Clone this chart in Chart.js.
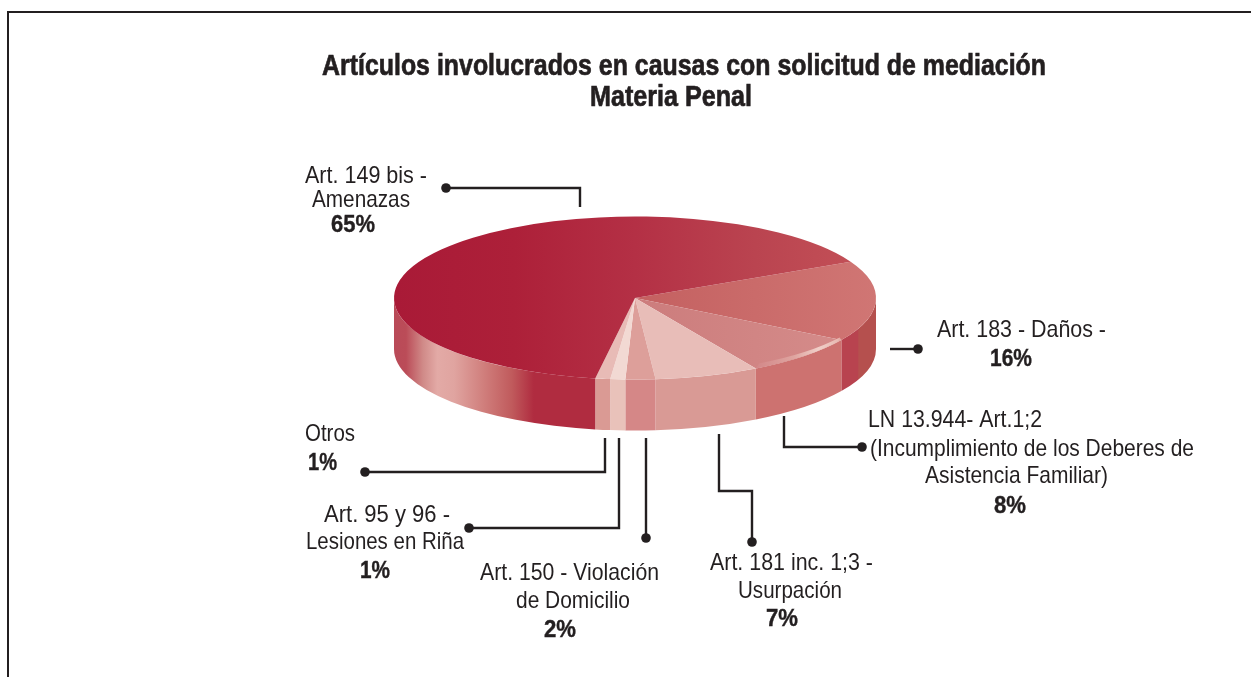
<!DOCTYPE html>
<html lang="es">
<head>
<meta charset="utf-8">
<title>Artículos involucrados en causas con solicitud de mediación</title>
<style>html,body{margin:0;padding:0;background:#fff;overflow:hidden}canvas{display:block}</style>
<script src="https://cdn.jsdelivr.net/npm/chart.js@4/dist/chart.umd.min.js"></script>
</head>
<body>
<canvas id="c" width="1251" height="677"></canvas>
<script>
// ---- data (clockwise from the rim point at upper right) ----
const categories = ["Art. 183 - Daños", "LN 13.944 - Art.1;2", "Art. 181 inc. 1;3 - Usurpación",
  "Art. 150 - Violación de Domicilio", "Art. 95 y 96 - Lesiones en Riña", "Otros", "Art. 149 bis - Amenazas"];
const values = [16, 8, 7, 2, 1, 1, 65];

const titleLines = ["Artículos involucrados en causas con solicitud de mediación", "Materia Penal"];

// ---- style: stops are [fraction across pie width, colour] ----
const topStops = [
  [[0.5, "#c46060"], [1, "#d07674"]],
  [[0.5, "#cc7c7c"], [1, "#d68e8c"]],
  [[0, "#e8bdb8"], [1, "#e8bdb8"]],
  [[0, "#dd9f9a"], [1, "#dd9f9a"]],
  [[0, "#f2d9d3"], [1, "#f2d9d3"]],
  [[0, "#e8bbb6"], [1, "#e8bbb6"]],
  [[0, "#a91a37"], [0.25, "#ad2039"], [0.5, "#b43045"], [0.75, "#ba4450"], [1, "#c45258"]]
];
const sideStops = [
  [[0.934, "#b8434f"], [0.963, "#b8434f"], [0.964, "#b5504e"], [1, "#b5504e"]],
  [[0, "#cd7270"], [1, "#cd7270"]],
  [[0, "#d99a95"], [1, "#d99a95"]],
  [[0, "#d58787"], [1, "#d58787"]],
  [[0, "#e9c2ba"], [1, "#e9c2ba"]],
  [[0, "#da9a94"], [1, "#da9a94"]],
  [[0, "#b94a58"], [0.025, "#bb4c58"], [0.06, "#d08a88"], [0.09, "#e3aaa6"], [0.125, "#e0a4a0"], [0.19, "#cf7c7a"],
   [0.245, "#c05a5c"], [0.29, "#b02c40"], [0.42, "#b02c40"]]
];
const bandStops = [[0.735, "#d08284"], [0.83, "#dfa5a0"], [0.88, "#f0cfc8"], [0.92, "#e8bab3"], [0.935, "#d88f8b"]];

const INK = "#231f20";
const FONT = '"Liberation Sans Narrow", "Liberation Sans", Arial, sans-serif';
const SQUASH = 81.5 / 241;
const DEPTH = 51;

// ---- annotation layout ----
// each text: [text, left, right, baseline, bold]
const texts = [
  ["Art. 149 bis -", 305, 427, 183], ["Amenazas", 312, 410, 207], ["65%", 331, 375, 232, true],
  ["Art. 183 - Daños -", 937, 1106, 337], ["16%", 990, 1032, 366, true],
  ["LN 13.944- Art.1;2", 868, 1042, 427], ["(Incumplimiento de los Deberes de", 870, 1194, 456],
  ["Asistencia Familiar)", 925, 1108, 483], ["8%", 994, 1026, 513, true],
  ["Art. 181 inc. 1;3 -", 710, 873, 570], ["Usurpación", 738, 842, 598], ["7%", 766, 798, 626, true],
  ["Otros", 305, 355, 441], ["1%", 308, 337, 470, true],
  ["Art. 95 y 96 -", 324, 450, 522], ["Lesiones en Riña", 306, 464, 549], ["1%", 360, 390, 578, true],
  ["Art. 150 - Violación", 480, 659, 580], ["de Domicilio", 516, 630, 608], ["2%", 544, 576, 637, true]
];
const leaders = [
  [[446, 188], [580, 188], [580, 207]],
  [[918, 349], [890, 349]],
  [[862, 447], [784, 447], [784, 416]],
  [[752, 542], [752, 491], [719, 491], [719, 434]],
  [[365, 472], [605, 472], [605, 438]],
  [[469, 528], [619, 528], [619, 438]],
  [[646, 538], [646, 438]]
];

function grad(ctx, area, stops) {
  const g = ctx.createLinearGradient(area.left, 0, area.right, 0);
  stops.forEach(s => g.addColorStop(s[0], s[1]));
  return g;
}
function visibleSpan(a0, a1) {
  const T = Math.PI * 2;
  for (let k = -1; k <= 1; k++) {
    const s = Math.max(a0 + k * T, 0), e = Math.min(a1 + k * T, Math.PI);
    if (e > s) return [s, e];
  }
  return null;
}
function fitted(ctx, str, left, right, base, bold, size, heavy) {
  ctx.save();
  ctx.font = (bold ? "bold " : "") + size + "px " + FONT;
  ctx.textAlign = "left";
  ctx.textBaseline = "alphabetic";
  ctx.fillStyle = INK;
  ctx.strokeStyle = INK;
  const w = ctx.measureText(str).width;
  ctx.translate(left, base);
  ctx.scale((right - left) / w, 1);
  ctx.fillText(str, 0, 0);
  if (heavy) { ctx.lineWidth = heavy; ctx.strokeText(str, 0, 0); }
  ctx.restore();
}

const pie3d = {
  id: "pie3d",
  beforeDatasetsDraw(chart) {
    const ctx = chart.ctx, area = chart.chartArea;
    const arcs = chart.getDatasetMeta(0).data;
    const cx = arcs[0].x, cy = arcs[0].y;
    // rim walls under the visible front half of every slice
    arcs.forEach((arc, i) => {
      const span = visibleSpan(arc.startAngle, arc.endAngle);
      if (!span) return;
      const R = arc.outerRadius, r = R * SQUASH;
      ctx.beginPath();
      ctx.ellipse(cx, cy, R, r, 0, span[0], span[1]);
      ctx.ellipse(cx, cy + DEPTH, R, r, 0, span[1], span[0], true);
      ctx.closePath();
      ctx.fillStyle = grad(ctx, area, sideStops[i]);
      ctx.fill();
    });
    // squash the flat library pie into the tilted top face
    ctx.save();
    ctx.translate(cx, cy);
    ctx.scale(1, SQUASH);
    ctx.translate(-cx, -cy);
  },
  afterDatasetsDraw(chart) {
    const ctx = chart.ctx, area = chart.chartArea;
    ctx.restore();
    const arcs = chart.getDatasetMeta(0).data;
    const arc = arcs[1], cx = arc.x, cy = arc.y, R = arc.outerRadius, r = R * SQUASH;
    // bevel highlight along the rim of the LN slice
    ctx.beginPath();
    ctx.ellipse(cx, cy, R, r, 0, arc.startAngle, arc.endAngle);
    ctx.ellipse(cx, cy, R - 2, r - 5, 0, arc.endAngle - 0.02, arc.startAngle, true);
    ctx.closePath();
    ctx.fillStyle = grad(ctx, area, bandStops);
    ctx.fill();
  },
  afterDraw(chart) {
    const ctx = chart.ctx;
    // frame, open at the bottom
    ctx.save();
    ctx.strokeStyle = INK;
    ctx.lineWidth = 2;
    ctx.beginPath();
    ctx.moveTo(8, 677); ctx.lineTo(8, 12); ctx.lineTo(1251, 12);
    ctx.stroke();
    // title
    fitted(ctx, titleLines[0], 322, 1046, 75, true, 30, 0.7);
    fitted(ctx, titleLines[1], 590, 752, 106, true, 30, 0.7);
    // leaders
    ctx.lineWidth = 2.4;
    ctx.lineJoin = "miter";
    leaders.forEach(pts => {
      ctx.beginPath();
      pts.forEach((p, i) => i ? ctx.lineTo(p[0], p[1]) : ctx.moveTo(p[0], p[1]));
      ctx.stroke();
      ctx.beginPath();
      ctx.fillStyle = INK;
      ctx.arc(pts[0][0], pts[0][1], 4.8, 0, Math.PI * 2);
      ctx.fill();
    });
    ctx.restore();
    texts.forEach(t => fitted(ctx, t[0], t[1], t[2], t[3], t[4], 24, t[4] ? 0.4 : 0));
  }
};

new Chart(document.getElementById("c"), {
  type: "pie",
  plugins: [pie3d],
  data: {
    labels: categories,
    datasets: [{
      data: values,
      clip: false,
      borderWidth: 0,
      backgroundColor(c) {
        return c.chart.chartArea ? grad(c.chart.ctx, c.chart.chartArea, topStops[c.dataIndex]) : "#b43045";
      }
    }]
  },
  options: {
    responsive: false,
    animation: false,
    devicePixelRatio: 1,
    rotation: 63.5,
    events: [],
    layout: { padding: { left: 394, right: 375, top: 57, bottom: 138 } },
    plugins: { legend: { display: false }, title: { display: false }, tooltip: { enabled: false } }
  }
});
</script>
</body>
</html>
